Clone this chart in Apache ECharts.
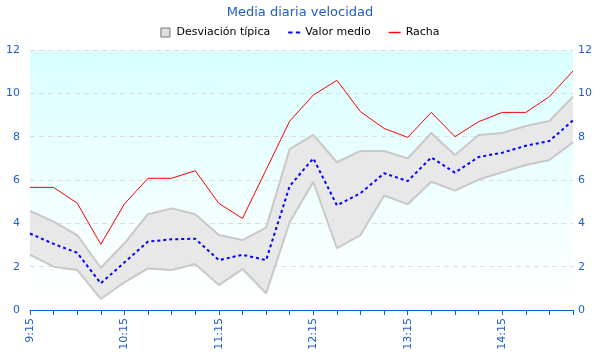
<!DOCTYPE html>
<html><head><meta charset="utf-8">
<script src="https://cdn.jsdelivr.net/npm/echarts@6/dist/echarts.min.js"></script>
<style>html,body{margin:0;padding:0;background:#fff}#c{width:600px;height:360px}</style>
</head><body><div id="c"></div>
<script>
const categories = ['9:15','9:30','9:45','10:00','10:15','10:30','10:45','11:00','11:15','11:30','11:45','12:00','12:15','12:30','12:45','13:00','13:15','13:30','13:45','14:00','14:15','14:30','14:45','15:00'];
const meanValues = [3.53,3.05,2.64,1.23,2.2,3.16,3.26,3.29,2.3,2.55,2.3,5.72,7.0,4.83,5.39,6.31,5.95,7.04,6.34,7.06,7.26,7.58,7.8,8.75];
const upperValues = [4.57,4.08,3.46,1.95,3.08,4.42,4.69,4.42,3.46,3.23,3.8,7.43,8.08,6.82,7.34,7.34,7.0,8.17,7.15,8.08,8.17,8.49,8.72,9.85];
const lowerValues = [2.54,2.0,1.85,0.51,1.28,1.92,1.85,2.12,1.15,1.89,0.77,4.05,5.92,2.85,3.46,5.28,4.88,5.92,5.51,6.02,6.36,6.69,6.92,7.74];
const gustValues = [5.66,5.66,4.93,3.03,4.9,6.08,6.08,6.43,4.92,4.23,6.47,8.72,9.92,10.6,9.15,8.38,7.97,9.12,8.0,8.69,9.12,9.12,9.85,11.03];
const yTicks = [0,2,4,6,8,10,12];

const bandHeight = upperValues.map((u,i)=>+(u-lowerValues[i]).toFixed(3));
const blue = '#1f5ccc';
const font = 'DejaVu Sans';
const chart = echarts.init(document.getElementById('c'), null, {renderer:'canvas'});
chart.setOption({
  animation:false,
  textStyle:{fontFamily:font},
  title:{text:'Media diaria velocidad', left:'center', top:1,
    textStyle:{color:'#1f5ccc', fontSize:13, fontWeight:'normal', fontFamily:font}},
  legend:{top:22, left:'center', itemGap:18, itemWidth:12, itemHeight:9, symbolKeepAspect:true,
    textStyle:{color:'#000', fontSize:11, fontFamily:font},
    data:[
      {name:'Desviación típica', icon:'path://M0,0h9v9h-9z', itemStyle:{color:'#dedede', borderColor:'#777', borderWidth:1}},
      {name:'Valor medio', icon:'path://M0,0h4v2h-4z M7,0h4v2h-4z', itemStyle:{color:'#0000ff'}},
      {name:'Racha', icon:'path://M0,0h12v1.4h-12z', itemStyle:{color:'#ff0000'}}
    ]},
  grid:{left:30, right:27, top:50, bottom:50, show:true, borderWidth:0,
    backgroundColor:new echarts.graphic.LinearGradient(0,0,0,1,[{offset:0,color:'#d9ffff'},{offset:0.85,color:'#fbffff'},{offset:1,color:'#ffffff'}])},
  xAxis:{type:'category', data:categories, boundaryGap:false,
    axisLine:{lineStyle:{color:'#0a64c8', width:1}},
    axisTick:{interval:0, length:5, lineStyle:{color:'#0a64c8'}},
    axisLabel:{interval:3, rotate:90, color:blue, fontSize:11, fontFamily:font, margin:8},
    splitLine:{show:false}},
  yAxis:[
    {type:'value', min:yTicks[0], max:yTicks[yTicks.length-1], interval:2,
      axisLine:{show:false}, axisTick:{show:false},
      axisLabel:{color:blue, fontSize:11, fontFamily:font, margin:10},
      splitLine:{lineStyle:{color:'#dddddd', type:[5,4]}}},
    {type:'value', min:yTicks[0], max:yTicks[yTicks.length-1], interval:2, position:'right',
      axisLine:{show:false}, axisTick:{show:false},
      axisLabel:{color:blue, fontSize:11, fontFamily:font, margin:5},
      splitLine:{show:false}}
  ],
  series:[
    {name:'lower', type:'line', stack:'band', data:lowerValues, symbol:'none', silent:true,
      lineStyle:{color:'#c8c8c8', width:2}, z:2},
    {name:'Desviación típica', type:'line', stack:'band', data:bandHeight, symbol:'none', silent:true,
      lineStyle:{color:'#c8c8c8', width:2}, areaStyle:{color:'#e8e8e8', opacity:1},
      itemStyle:{color:'#dedede'}, z:2},
    {name:'Valor medio', type:'line', data:meanValues, symbol:'none',
      lineStyle:{color:'#0000ff', width:2, type:[3,3]}, itemStyle:{color:'#0000ff'}, z:4},
    {name:'Racha', type:'line', data:gustValues, symbol:'none',
      lineStyle:{color:'#ff0000', width:1}, itemStyle:{color:'#ff0000'}, z:4}
  ]
});
</script></body></html>
